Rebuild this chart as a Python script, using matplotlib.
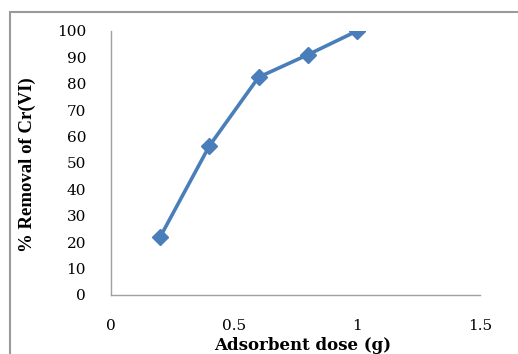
import matplotlib.pyplot as plt
from matplotlib.patches import Rectangle

dose = [0.2, 0.4, 0.6, 0.8, 1.0]
removal = [22, 56.5, 82.5, 91, 100]
xticks = [0, 0.5, 1, 1.5]
yticks = list(range(0, 101, 10))

plt.rcParams['font.family'] = ['DejaVu Serif']

fig = plt.figure(figsize=(5.18, 3.54), dpi=100)
# outer chart frame
fig.patches.append(Rectangle((10 / 518, -0.1), 1.2, 1 - 12 / 354 + 0.1,
                             transform=fig.transFigure, fill=False,
                             edgecolor='#9a9a9a', linewidth=1.5))

ax = fig.add_axes([111 / 518, 1 - 295 / 354, (480 - 111) / 518, (295 - 31) / 354])
ax.plot(dose, removal, color='#4A7EBB', linewidth=2.6, marker='D',
        markersize=8, markerfacecolor='#4A7EBB', markeredgecolor='#4A7EBB')

ax.set_xlim(0, 1.5)
ax.set_ylim(0, 100)
ax.set_xticks(xticks)
ax.set_xticklabels(['0', '0.5', '1', '1.5'])
ax.set_yticks(yticks)
ax.tick_params(length=0, labelsize=11)
ax.tick_params(axis='x', pad=17)
ax.tick_params(axis='y', pad=18)

for s in ['top', 'right']:
    ax.spines[s].set_visible(False)
for s in ['left', 'bottom']:
    ax.spines[s].set_color('#a0a0a0')
    ax.spines[s].set_linewidth(1.0)

fig.text(303 / 518, 1 - 345 / 354, 'Adsorbent dose (g)', fontsize=12,
         fontweight='bold', ha='center', va='center')
fig.text(27 / 518, 1 - 165 / 354, '% Removal of Cr(VI)', fontsize=13.5,
         fontweight='bold', ha='center', va='center', rotation=90,
         family='Liberation Serif')

fig.savefig('out.png', dpi=100)
